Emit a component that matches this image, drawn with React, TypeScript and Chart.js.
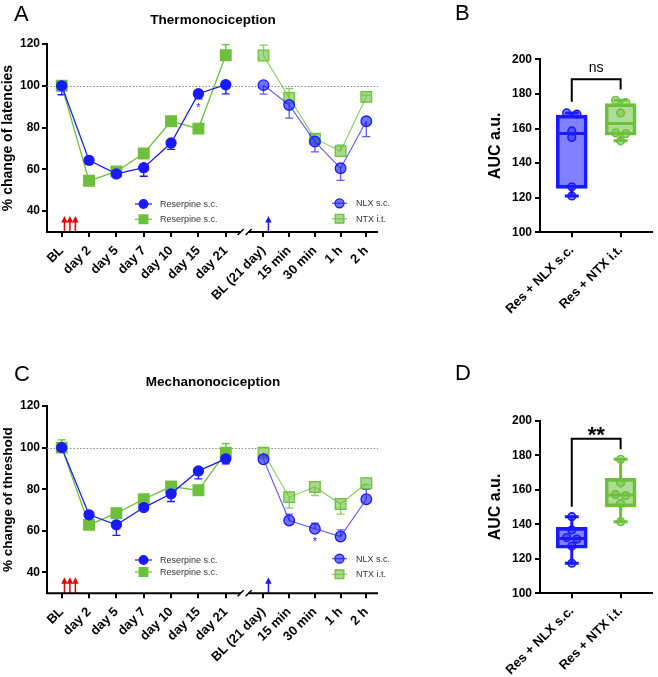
import React, { useEffect, useRef } from 'react';
import { Chart, registerables } from 'chart.js';

Chart.register(...registerables);
const FONT = "'Liberation Sans', Arial, Helvetica, sans-serif";
Chart.defaults.font.family = FONT;
Chart.defaults.color = '#000';

// ---------------- categories ----------------
const phase1Labels = ['BL', 'day 2', 'day 5', 'day 7', 'day 10', 'day 15', 'day 21'];
const phase2Labels = ['BL (21 day)', '15 min', '30 min', '1 h', '2 h'];
const aucGroups = ['Res + NLX s.c.', 'Res + NTX i.t.'];
const lineYTicks = [40, 60, 80, 100, 120];

// ---------------- A: Thermonociception ----------------
const thermoResBlue = [100, 64.3, 57.8, 60.8, 72.6, 96.2, 100.5];
const thermoResBlueErr = [4.3, 1.9, 1.3, 4.1, 3.0, 2.5, 4.4];
const thermoResGreen = [100, 54.5, 59, 67.6, 83, 79.5, 114.6];
const thermoResGreenErr = [0.8, 0.8, 0.8, 0.8, 0.8, 0.8, 5.1];
const thermoNLX = [100.3, 90.8, 73.3, 60.5, 83];
const thermoNLXErr = [4.3, 6.3, 4.9, 5.8, 7.3];
const thermoNTX = [114.5, 94.2, 74.7, 68.7, 94.7];
const thermoNTXErr = [5.0, 4.5, 2.2, 3.0, 0.8];

// ---------------- C: Mechanonociception ----------------
const mechResBlue = [100, 67.7, 62.9, 71.2, 77.8, 88.8, 94.6];
const mechResBlueErr = [1.9, 3.2, 5.1, 1.0, 3.7, 3.8, 2.4];
const mechResGreen = [100, 62.9, 68.5, 75.2, 81.3, 79.5, 97.6];
const mechResGreenErr = [3.7, 0.8, 0.8, 0.8, 0.8, 0.8, 4.3];
const mechNLX = [94.4, 65, 61, 57.3, 75.2];
const mechNLXErr = [2.1, 3.0, 2.7, 3.2, 4.8];
const mechNTX = [97.6, 76.2, 81.1, 72.9, 82.9];
const mechNTXErr = [0.8, 5.3, 4.1, 4.9, 0.8];

// ---------------- B / D: AUC ----------------
const thermoAucNLX = [169, 168.3, 158.6, 154.8, 126.3, 121];
const thermoAucNTX = [176.3, 175, 169, 157.5, 157.1, 152.9];
// [min, q1, median, q3, max]
const thermoBoxNLX = [121, 125.4, 157.1, 167.7, 169];
const thermoBoxNTX = [152.9, 156.1, 162.9, 174.4, 176.3];
const thermoBracket = [188.4, 175.5, 182.6]; // top, left end, right end
const mechAucNLX = [144.4, 136.7, 132.3, 131.4, 127.4, 117.4];
const mechAucNTX = [177.6, 164, 157.2, 156.6, 152.1, 141.5];
const mechBoxNLX = [117.4, 126.1, 131.8, 138.2, 144.4];
const mechBoxNTX = [141.5, 150.1, 156.9, 166.6, 177.6];
const mechBracket = [189.6, 150.2, 183.4];

// ---------------- layout constants ----------------
const RIGHT_START = 7.38;
const RIGHT_STEP = 0.94;
const leftX = phase1Labels.map((_, i) => i);
const rightX = phase2Labels.map((_, i) => RIGHT_START + i * RIGHT_STEP);
const tickX = [...leftX, ...rightX];
const tickLabels = [...phase1Labels, ...phase2Labels];
const BREAK_X = (leftX[leftX.length - 1] + rightX[0]) / 2;

const BLUE = '#1a1aff';
const GREEN = '#6cc03c';
const BLUE_FILL = 'rgba(26,26,255,0.62)';
const GREEN_FILL = 'rgba(108,192,60,0.6)';
const BLUE_LINE2 = 'rgba(26,26,255,0.72)';
const GREEN_LINE2 = 'rgba(108,192,60,0.8)';
const BLUE_BOX = 'rgba(26,26,255,0.55)';
const GREEN_BOX = 'rgba(108,192,60,0.55)';
const BLUE_DOT = 'rgba(26,26,255,0.45)';
const GREEN_DOT = 'rgba(108,192,60,0.45)';

const pts = (xs: number[], ys: number[]) => ys.map((y, i) => ({ x: xs[i], y }));

function drawMarker(ctx: CanvasRenderingContext2D, kind: string, x: number, y: number, s: number, fill: string, stroke: string) {
  ctx.fillStyle = fill;
  ctx.strokeStyle = stroke;
  ctx.lineWidth = 1.3;
  ctx.beginPath();
  if (kind === 'circle') ctx.arc(x, y, s, 0, Math.PI * 2);
  else ctx.rect(x - s, y - s, 2 * s, 2 * s);
  ctx.fill();
  ctx.stroke();
}

function drawArrow(ctx: CanvasRenderingContext2D, x: number, yb: number, len: number, color: string) {
  ctx.strokeStyle = color;
  ctx.fillStyle = color;
  ctx.lineWidth = 1.5;
  ctx.beginPath();
  ctx.moveTo(x, yb);
  ctx.lineTo(x, yb - len + 5);
  ctx.stroke();
  ctx.beginPath();
  ctx.moveTo(x, yb - len);
  ctx.lineTo(x - 3.2, yb - len + 6.5);
  ctx.lineTo(x + 3.2, yb - len + 6.5);
  ctx.closePath();
  ctx.fill();
}

interface LineSpec {
  letter: string; title: string; yTitle: string; yTitleSize: number;
  resBlue: number[]; resBlueErr: number[]; resBlueDir: number;
  resGreen: number[]; resGreenErr: number[]; resGreenDir: number;
  nlx: number[]; nlxErr: number[]; nlxDir: number;
  ntx: number[]; ntxErr: number[]; ntxDir: number;
  height: number; top: number; bottom: number;
  letterY: number; titleY: number;
  legendL: number[]; legendR: number[];
  star: { x: number; v: number };
}

function lineConfig(p: LineSpec): any {
  const series = [
    { xs: leftX, ys: p.resBlue, err: p.resBlueErr, dir: p.resBlueDir, color: BLUE },
    { xs: leftX, ys: p.resGreen, err: p.resGreenErr, dir: p.resGreenDir, color: GREEN },
    { xs: rightX, ys: p.nlx, err: p.nlxErr, dir: p.nlxDir, color: BLUE_LINE2 },
    { xs: rightX, ys: p.ntx, err: p.ntxErr, dir: p.ntxDir, color: GREEN_LINE2 },
  ];
  const plugin = {
    id: 'annot',
    beforeDatasetsDraw(chart: any) {
      const { ctx, chartArea: ca, scales } = chart;
      const xs = scales.x, ys = scales.y;
      ctx.save();
      // dotted 100% line
      ctx.strokeStyle = '#8a8a8a';
      ctx.lineWidth = 1;
      ctx.setLineDash([1.5, 1.8]);
      const y100 = Math.round(ys.getPixelForValue(100)) + 0.5;
      ctx.beginPath();
      ctx.moveTo(ca.left, y100);
      ctx.lineTo(ca.right, y100);
      ctx.stroke();
      ctx.setLineDash([]);
      // error bars
      series.forEach((s) => {
        ctx.strokeStyle = s.color;
        ctx.lineWidth = 1.3;
        s.ys.forEach((v, i) => {
          const px = xs.getPixelForValue(s.xs[i]);
          const y0 = ys.getPixelForValue(v);
          const y1 = ys.getPixelForValue(v + s.dir * s.err[i]);
          ctx.beginPath();
          ctx.moveTo(px, y0);
          ctx.lineTo(px, y1);
          ctx.moveTo(px - 4, y1);
          ctx.lineTo(px + 4, y1);
          ctx.stroke();
        });
      });
      ctx.restore();
    },
    afterDraw(chart: any) {
      const { ctx, chartArea: ca, scales } = chart;
      const xs = scales.x, ys = scales.y;
      ctx.save();
      const yb = ca.bottom;
      // arrows
      [0.1, 0.3, 0.5].forEach((d) => drawArrow(ctx, xs.getPixelForValue(leftX[0] + d), yb, 16, '#e60000'));
      drawArrow(ctx, xs.getPixelForValue(rightX[0] + 0.18), yb, 16, BLUE);
      // broken x axis
      const bx = xs.getPixelForValue(BREAK_X);
      ctx.strokeStyle = '#000';
      ctx.lineWidth = 2;
      ctx.beginPath();
      ctx.moveTo(ca.left - 1, yb);
      ctx.lineTo(bx - 4, yb);
      ctx.moveTo(bx + 4, yb);
      ctx.lineTo(ca.right, yb);
      ctx.stroke();
      ctx.lineWidth = 1.5;
      ctx.beginPath();
      ctx.moveTo(bx - 7, yb + 3);
      ctx.lineTo(bx - 1, yb - 3);
      ctx.moveTo(bx + 1, yb + 3);
      ctx.lineTo(bx + 7, yb - 3);
      ctx.stroke();
      // asterisk
      ctx.fillStyle = BLUE;
      ctx.font = `11px ${FONT}`;
      ctx.textAlign = 'center';
      ctx.textBaseline = 'middle';
      ctx.fillText('*', xs.getPixelForValue(p.star.x), ys.getPixelForValue(p.star.v) + 2);
      // legends
      const legend = (x0: number, x1: number, xm: number, xt: number, y: number, kind: string, line: string, fill: string, stroke: string, s: number, text: string) => {
        ctx.strokeStyle = line;
        ctx.lineWidth = 1.2;
        ctx.beginPath();
        ctx.moveTo(x0, y);
        ctx.lineTo(x1, y);
        ctx.stroke();
        drawMarker(ctx, kind, xm, y, s, fill, stroke);
        ctx.fillStyle = '#333';
        ctx.font = `9px ${FONT}`;
        ctx.textAlign = 'left';
        ctx.textBaseline = 'middle';
        ctx.fillText(text, xt, y + 0.5);
      };
      legend(135, 152, 143.5, 160, p.legendL[0], 'circle', BLUE, BLUE, BLUE, 4.3, 'Reserpine s.c.');
      legend(135, 152, 143.5, 160, p.legendL[1], 'rect', GREEN, GREEN, GREEN, 4.3, 'Reserpine s.c.');
      legend(332, 347, 339.5, 356, p.legendR[0], 'circle', BLUE_LINE2, BLUE_FILL, BLUE, 4.5, 'NLX s.c.');
      legend(332, 347, 339.5, 356, p.legendR[1], 'rect', GREEN_LINE2, GREEN_FILL, GREEN, 4.3, 'NTX i.t.');
      // title + panel letter
      ctx.fillStyle = '#000';
      ctx.textBaseline = 'alphabetic';
      ctx.textAlign = 'center';
      ctx.font = `bold 13.5px ${FONT}`;
      ctx.fillText(p.title, 213, p.titleY);
      ctx.textAlign = 'left';
      ctx.font = `22px ${FONT}`;
      ctx.fillText(p.letter, 14, p.letterY);
      ctx.restore();
    },
  };
  const ds = (label: string, xs: number[], ys: number[], kind: string, line: string, fill: string, stroke: string, r: number, lw: number) => ({
    label,
    data: pts(xs, ys),
    showLine: true,
    borderColor: line,
    borderWidth: lw,
    pointStyle: kind,
    pointRadius: r,
    pointBackgroundColor: fill,
    pointBorderColor: stroke,
    pointBorderWidth: 1.3,
    clip: false,
  });
  return {
    type: 'scatter',
    data: {
      datasets: [
        ds('Reserpine s.c.', leftX, p.resBlue, 'circle', BLUE, BLUE, BLUE, 5, 1.3),
        ds('Reserpine s.c.', leftX, p.resGreen, 'rect', GREEN, GREEN, GREEN, 7.5, 1.3),
        ds('NLX s.c.', rightX, p.nlx, 'circle', BLUE_LINE2, BLUE_FILL, BLUE, 5.3, 1.1),
        ds('NTX i.t.', rightX, p.ntx, 'rect', GREEN_LINE2, GREEN_FILL, GREEN, 7.5, 1.1),
      ],
    },
    options: {
      responsive: false,
      animation: false,
      devicePixelRatio: 1,
      layout: { padding: { left: 0, top: p.top, right: 42, bottom: 0 } },
      plugins: { legend: { display: false }, tooltip: { enabled: false } },
      scales: {
        x: {
          type: 'linear',
          min: -0.538,
          max: 11.568,
          afterBuildTicks: (s: any) => { s.ticks = tickX.map((v) => ({ value: v })); },
          afterFit: (s: any) => { s.height = p.height - p.bottom; },
          border: { display: false },
          grid: { display: true, drawOnChartArea: false, drawTicks: true, tickLength: 5, color: '#000', lineWidth: 2 },
          ticks: {
            autoSkip: false, minRotation: 45, maxRotation: 45, padding: 6, color: '#000',
            font: { size: 13, weight: 'bold' },
            callback: (_v: any, i: number) => tickLabels[i],
          },
        },
        y: {
          type: 'linear',
          min: 30,
          max: 120,
          afterBuildTicks: (s: any) => { s.ticks = lineYTicks.map((v) => ({ value: v })); },
          afterFit: (s: any) => { s.width = 47; },
          border: { display: true, width: 2, color: '#000' },
          grid: { display: true, drawOnChartArea: false, drawTicks: true, tickLength: 5, color: '#000', lineWidth: 2 },
          ticks: { font: { size: 12, weight: 'bold' }, padding: 2, color: '#000' },
          title: { display: true, text: p.yTitle, font: { size: p.yTitleSize, weight: 'bold' }, padding: 0, color: '#000' },
        },
      },
    },
    plugins: [plugin],
  };
}

const SWARM_GAP = 3.4;
const SWARM_DX = 0.21;
function swarm(values: number[], center: number) {
  const sorted = [...values].sort((a, b) => b - a);
  const out: { x: number; y: number }[] = [];
  let i = 0;
  while (i < sorted.length) {
    let j = i + 1;
    while (j < sorted.length && sorted[j - 1] - sorted[j] < SWARM_GAP) j++;
    const n = j - i;
    for (let k = 0; k < n; k++) out.push({ x: center + (k - (n - 1) / 2) * SWARM_DX, y: sorted[i + k] });
    i = j;
  }
  return out;
}

interface BoxSpec {
  letter: string; height: number; top: number; bottom: number; letterY: number;
  nlx: number[]; ntx: number[]; boxNLX: number[]; boxNTX: number[];
  bracket: number[]; sig: string; sigFont: string; sigOffset: number;
}

function boxConfig(p: BoxSpec): any {
  const stats = [p.boxNLX, p.boxNTX];
  const colors = [BLUE, GREEN];
  const dots = [...swarm(p.nlx, 0), ...swarm(p.ntx, 1)];
  const dotFill = [...p.nlx.map(() => BLUE_DOT), ...p.ntx.map(() => GREEN_DOT)];
  const dotStroke = [...p.nlx.map(() => BLUE), ...p.ntx.map(() => GREEN)];
  const plugin = {
    id: 'boxparts',
    afterDatasetDraw(chart: any, args: any) {
      if (args.index !== 0) return;
      const { ctx, scales } = chart;
      const xs = scales.x, ys = scales.y;
      ctx.save();
      ctx.lineWidth = 3;
      stats.forEach((s, g) => {
        const cx = xs.getPixelForValue(g);
        ctx.strokeStyle = colors[g];
        const [mn, q1, med, q3, mx] = s.map((v) => ys.getPixelForValue(v));
        ctx.beginPath();
        ctx.moveTo(cx - 15, med);
        ctx.lineTo(cx + 15, med);
        ctx.moveTo(cx, q1);
        ctx.lineTo(cx, mn);
        ctx.moveTo(cx - 7, mn);
        ctx.lineTo(cx + 7, mn);
        ctx.moveTo(cx, q3);
        ctx.lineTo(cx, mx);
        ctx.moveTo(cx - 7, mx);
        ctx.lineTo(cx + 7, mx);
        ctx.stroke();
      });
      ctx.restore();
    },
    afterDraw(chart: any) {
      const { ctx, scales } = chart;
      const xs = scales.x, ys = scales.y;
      ctx.save();
      const x0 = xs.getPixelForValue(0), x1 = xs.getPixelForValue(1);
      const yt = ys.getPixelForValue(p.bracket[0]);
      ctx.strokeStyle = '#000';
      ctx.lineWidth = 2;
      ctx.beginPath();
      ctx.moveTo(x0, ys.getPixelForValue(p.bracket[1]));
      ctx.lineTo(x0, yt);
      ctx.lineTo(x1, yt);
      ctx.lineTo(x1, ys.getPixelForValue(p.bracket[2]));
      ctx.stroke();
      ctx.fillStyle = '#000';
      ctx.textAlign = 'center';
      ctx.textBaseline = 'alphabetic';
      ctx.font = p.sigFont;
      ctx.fillText(p.sig, (x0 + x1) / 2, yt + p.sigOffset);
      ctx.textAlign = 'left';
      ctx.font = `22px ${FONT}`;
      ctx.fillText(p.letter, 35, p.letterY);
      ctx.restore();
    },
  };
  return {
    type: 'bar',
    data: {
      datasets: [
        {
          type: 'bar',
          data: stats.map((s, g) => ({ x: g, y: [s[1], s[3]] })),
          backgroundColor: [BLUE_BOX, GREEN_BOX],
          borderColor: colors,
          borderWidth: 3,
          borderSkipped: false,
          barThickness: 31,
          order: 2,
        },
        {
          type: 'scatter',
          data: dots,
          pointRadius: 3.8,
          pointBackgroundColor: dotFill,
          pointBorderColor: dotStroke,
          pointBorderWidth: 1.6,
          order: 1,
          clip: false,
        },
      ],
    },
    options: {
      responsive: false,
      animation: false,
      devicePixelRatio: 1,
      layout: { padding: { left: 66, top: p.top, right: 3, bottom: 0 } },
      plugins: { legend: { display: false }, tooltip: { enabled: false } },
      scales: {
        x: {
          type: 'linear',
          offset: false,
          min: -0.65,
          max: 1.65,
          afterBuildTicks: (s: any) => { s.ticks = aucGroups.map((_, i) => ({ value: i })); },
          afterFit: (s: any) => { s.height = p.height - p.bottom; },
          border: { display: true, width: 2, color: '#000' },
          grid: { display: true, offset: false, drawOnChartArea: false, drawTicks: true, tickLength: 5, color: '#000', lineWidth: 2 },
          ticks: {
            autoSkip: false, minRotation: 45, maxRotation: 45, padding: 5, color: '#000',
            font: { size: 13, weight: 'bold' },
            callback: (_v: any, i: number) => aucGroups[i],
          },
        },
        y: {
          type: 'linear',
          min: 100,
          max: 200,
          ticks: { stepSize: 20, font: { size: 12, weight: 'bold' }, padding: 3, color: '#000' },
          afterFit: (s: any) => { s.width = 54; },
          border: { display: true, width: 2, color: '#000' },
          grid: { display: true, drawOnChartArea: false, drawTicks: true, tickLength: 5, color: '#000', lineWidth: 2 },
          title: { display: true, text: 'AUC a.u.', font: { size: 16, weight: 'bold' }, padding: 0, color: '#000' },
        },
      },
    },
    plugins: [plugin],
  };
}

const thermoSpec: LineSpec = {
  letter: 'A', title: 'Thermonociception', yTitle: '% change of latencies', yTitleSize: 14,
  resBlue: thermoResBlue, resBlueErr: thermoResBlueErr, resBlueDir: -1,
  resGreen: thermoResGreen, resGreenErr: thermoResGreenErr, resGreenDir: 1,
  nlx: thermoNLX, nlxErr: thermoNLXErr, nlxDir: -1,
  ntx: thermoNTX, ntxErr: thermoNTXErr, ntxDir: 1,
  height: 330, top: 44, bottom: 232, letterY: 21, titleY: 24,
  legendL: [204, 219.3], legendR: [203.3, 218.7],
  star: { x: leftX[5], v: 90.4 },
};

const mechSpec: LineSpec = {
  letter: 'C', title: 'Mechanonociception', yTitle: '% change of threshold', yTitleSize: 13.5,
  resBlue: mechResBlue, resBlueErr: mechResBlueErr, resBlueDir: -1,
  resGreen: mechResGreen, resGreenErr: mechResGreenErr, resGreenDir: 1,
  nlx: mechNLX, nlxErr: mechNLXErr, nlxDir: 1,
  ntx: mechNTX, ntxErr: mechNTXErr, ntxDir: -1,
  height: 347, top: 76, bottom: 263.3, letterY: 50.7, titleY: 55.5,
  legendL: [230, 242], legendR: [228.7, 244.3],
  star: { x: rightX[2], v: 55.6 },
};

const thermoBox: BoxSpec = {
  letter: 'B', height: 330, top: 59.3, bottom: 232.3, letterY: 20,
  nlx: thermoAucNLX, ntx: thermoAucNTX, boxNLX: thermoBoxNLX, boxNTX: thermoBoxNTX,
  bracket: thermoBracket, sig: 'ns', sigFont: `14px ${FONT}`, sigOffset: -7.5,
};

const mechBox: BoxSpec = {
  letter: 'D', height: 347, top: 90.7, bottom: 263.3, letterY: 50,
  nlx: mechAucNLX, ntx: mechAucNTX, boxNLX: mechBoxNLX, boxNTX: mechBoxNTX,
  bracket: mechBracket, sig: '**', sigFont: `bold 22px ${FONT}`, sigOffset: 3,
};

function ChartCanvas({ left, top, width, height, make }: { left: number; top: number; width: number; height: number; make: () => any }) {
  const ref = useRef<HTMLCanvasElement>(null);
  useEffect(() => {
    const chart = new Chart(ref.current as HTMLCanvasElement, make());
    return () => chart.destroy();
  }, []);
  return (
    <canvas
      ref={ref}
      width={width}
      height={height}
      style={{ position: 'absolute', left, top, width, height, display: 'block' }}
    />
  );
}

export default function App() {
  return (
    <div style={{ position: 'absolute', left: 0, top: 0, width: 658, height: 677, background: '#fff', overflow: 'hidden' }}>
      <ChartCanvas left={0} top={0} width={420} height={330} make={() => lineConfig(thermoSpec)} />
      <ChartCanvas left={420} top={0} width={238} height={330} make={() => boxConfig(thermoBox)} />
      <ChartCanvas left={0} top={330} width={420} height={347} make={() => lineConfig(mechSpec)} />
      <ChartCanvas left={420} top={330} width={238} height={347} make={() => boxConfig(mechBox)} />
    </div>
  );
}
